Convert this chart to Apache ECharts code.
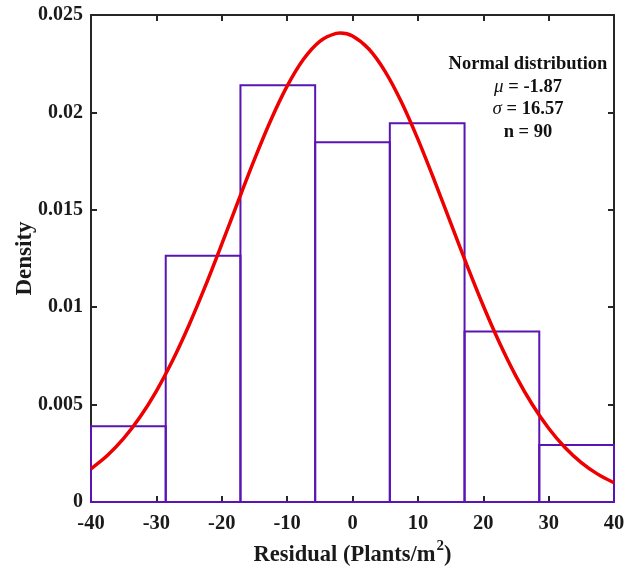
<!DOCTYPE html>
<html>
<head>
<meta charset="utf-8">
<script src="https://cdn.jsdelivr.net/npm/echarts@6/dist/echarts.min.js"></script>
<style>
  html, body { margin: 0; padding: 0; background: #fff; }
  #chart { width: 638px; height: 572px; }
</style>
</head>
<body>
<div id="chart"></div>
<script>
// histogram bins (edges) and density per bin
let binEdges = [-40, -28.57, -17.14, -5.71, 5.71, 17.14, 28.57, 40]
let binDensity = [0.00389, 0.01264, 0.02139, 0.01847, 0.01944, 0.00875, 0.00292]

// fitted normal curve
let curveX = [-40, -37.5, -35, -32.5, -30, -27.5, -25, -22.5, -20, -17.5, -15, -12.5, -10, -7.5, -5, -2.5, -1.87,
              0, 2.5, 5, 7.5, 10, 12.5, 15, 17.5, 20, 22.5, 25, 27.5, 30, 32.5, 35, 37.5, 40]
let curveY = [0.001705, 0.002386, 0.003262, 0.004361, 0.005698, 0.007279, 0.009088, 0.011091, 0.013233, 0.015430,
              0.017588, 0.019598, 0.021346, 0.022726, 0.023650, 0.024059, 0.024076,
              0.023923, 0.023253, 0.022093, 0.020519, 0.018627, 0.016529, 0.014339, 0.012158, 0.010076, 0.008164,
              0.006465, 0.005005, 0.003787, 0.002801, 0.002025, 0.001431, 0.000989]

let xTicks = [-40, 40, 10]
let yTicks = [0, 0.025, 0.005]
let statLines = ['Normal distribution', '-1.87', '16.57', '90']

let font = '"Liberation Serif", "Times New Roman", serif'
let frameColor = '#262626'

let histData = binDensity.map((d, i) => [binEdges[i], binEdges[i + 1], d])
let curveData = curveX.map((x, i) => [x, curveY[i]])

let axisBase = {
    axisLine: { show: true, onZero: false, lineStyle: { color: frameColor, width: 2 } },
    axisTick: { show: true, inside: true, length: 6, lineStyle: { color: frameColor, width: 2 } },
    splitLine: { show: false }
}

let option = {
    animation: false,
    grid: { left: 91, right: 24, top: 15, bottom: 69 },
    xAxis: [
        Object.assign({}, axisBase, {
            type: 'value', min: xTicks[0], max: xTicks[1], interval: xTicks[2], position: 'bottom',
            axisLabel: { color: '#1a1a1a', fontFamily: font, fontWeight: 'bold', fontSize: 20.5, margin: 11 },
            name: '{a|Residual (Plants/m}{s|2}{a|)}',
            nameLocation: 'middle', nameGap: 37, nameMoveOverlap: false,
            nameTextStyle: {
                rich: {
                    a: { fontFamily: font, fontWeight: 'bold', fontSize: 22.5, color: '#1a1a1a', lineHeight: 28, verticalAlign: 'bottom' },
                    s: { fontFamily: font, fontWeight: 'bold', fontSize: 15, color: '#1a1a1a', lineHeight: 12, verticalAlign: 'top', padding: [0, 0, 0, 1] }
                }
            }
        }),
        Object.assign({}, axisBase, {
            type: 'value', min: xTicks[0], max: xTicks[1], interval: xTicks[2], position: 'top',
            axisLabel: { show: false }
        })
    ],
    yAxis: [
        Object.assign({}, axisBase, {
            type: 'value', min: yTicks[0], max: yTicks[1], interval: yTicks[2], position: 'left',
            axisLabel: { color: '#1a1a1a', fontFamily: font, fontWeight: 'bold', fontSize: 20, margin: 8 },
            name: 'Density', nameLocation: 'middle', nameGap: 54, nameMoveOverlap: false,
            nameTextStyle: { fontFamily: font, fontWeight: 'bold', fontSize: 23, color: '#1a1a1a' }
        }),
        Object.assign({}, axisBase, {
            type: 'value', min: yTicks[0], max: yTicks[1], interval: yTicks[2], position: 'right',
            axisLabel: { show: false }
        })
    ],
    series: [
        {
            type: 'custom',
            xAxisIndex: 0, yAxisIndex: 0,
            data: histData,
            z: 3,
            renderItem: (params, api) => {
                let p0 = api.coord([api.value(0), api.value(2)])
                let p1 = api.coord([api.value(1), 0])
                return {
                    type: 'rect',
                    shape: { x: p0[0], y: p0[1], width: p1[0] - p0[0], height: p1[1] - p0[1] },
                    style: { fill: 'rgba(255,255,255,0)', stroke: '#5a14b4', lineWidth: 2 }
                }
            }
        },
        {
            type: 'line',
            xAxisIndex: 0, yAxisIndex: 0,
            data: curveData,
            smooth: 0.3,
            symbol: 'none',
            z: 4,
            lineStyle: { color: '#ee0000', width: 3.5 }
        }
    ],
    graphic: [{
        type: 'text',
        x: 528,
        y: 53,
        style: {
            text: `{b|${statLines[0]}}\n{i|μ}{b| = ${statLines[1]}}\n{i|σ}{b| = ${statLines[2]}}\n{b|n = ${statLines[3]}}`,
            align: 'center',
            verticalAlign: 'top',
            rich: {
                b: { fontFamily: font, fontWeight: 'bold', fontSize: 18.5, fill: '#111', lineHeight: 22.5 },
                i: { fontFamily: font, fontStyle: 'italic', fontSize: 19, fill: '#111', lineHeight: 22.5 }
            }
        }
    }]
}

let myChart = echarts.init(document.querySelector('#chart'))
myChart.setOption(option)
</script>
</body>
</html>
